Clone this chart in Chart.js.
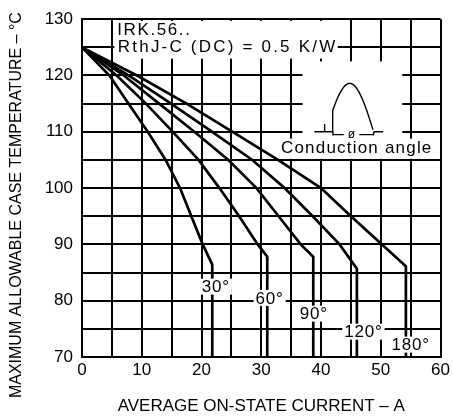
<!DOCTYPE html>
<html>
<head>
<meta charset="utf-8">
<script src="https://cdn.jsdelivr.net/npm/chart.js@4.4.1/dist/chart.umd.min.js"></script>
<style>
  html, body { margin: 0; padding: 0; background: #fff; }
  #box { position: relative; width: 453px; height: 417px; }
</style>
</head>
<body>
<div id="box"><canvas id="myChart"></canvas></div>
<script>
// conduction angles, one curve each
var angles = ['30°', '60°', '90°', '120°', '180°'];

// average on-state current (A) against max. allowable case temperature (°C)
var current30 = [0, 4.6, 7.8, 11.0, 14.0, 16.4, 18.3, 20.2, 21.8, 21.8];
var temp30 = [125, 120, 115, 110, 105, 100, 95, 90, 86.4, 70];
var current60 = [0, 5.8, 10.7, 15.2, 19.5, 23.0, 26.3, 29.4, 31.0, 31.0];
var temp60 = [125, 120, 115, 110, 105, 100, 95, 90, 87.8, 70];
var current90 = [0, 7.0, 12.9, 18.8, 24.5, 29.2, 32.9, 36.6, 38.7, 38.7];
var temp90 = [125, 120, 115, 110, 105, 100, 95, 90, 87.8, 70];
var current120 = [0, 7.8, 14.9, 21.8, 28.5, 33.9, 38.6, 43.1, 46.0, 46.0];
var temp120 = [125, 120, 115, 110, 105, 100, 95, 90, 85.7, 70];
var current180 = [0, 9.2, 17.5, 25.2, 32.8, 40.0, 45.0, 50.2, 54.2, 54.2];
var temp180 = [125, 120, 115, 110, 105, 100, 95, 90, 86.1, 70];

var xTickLabels = [0, 10, 20, 30, 40, 50, 60];
var yTickLabels = [70, 80, 90, 100, 110, 120, 130];

var xTitle = 'AVERAGE ON-STATE CURRENT – A';
var yTitle = 'MAXIMUM ALLOWABLE CASE TEMPERATURE – °C';
var noteLines = ['IRK.56..', 'RthJ-C (DC) = 0.5 K/W'];
var insetText = 'Conduction angle';

Chart.defaults.font.family = '"Liberation Sans", Arial, sans-serif';
Chart.defaults.color = '#000';

// where the angle tags sit (data units, centre of text)
var tagPos = [[22.4, 82.5], [31.4, 80.5], [38.8, 77.7], [47.1, 74.5], [55.0, 72.2]];
// white patches that hide the grid behind the notes [x1, x2, yTop, yBottom]
var patches = [[5.4, 42.8, 129.7, 123.0], [36.9, 53.6, 122.5, 108.6], [33.0, 59.8, 108.8, 105.2]];

function px(chart, v) { return chart.scales.x.getPixelForValue(v); }
function py(chart, v) { return chart.scales.y.getPixelForValue(v); }

var notesPlugin = {
    id: 'notes',
    beforeDatasetsDraw: function (chart) {
        var ctx = chart.ctx;
        ctx.save();
        ctx.fillStyle = '#fff';
        patches.forEach(function (b) {
            var x1 = px(chart, b[0]), x2 = px(chart, b[1]);
            var y1 = py(chart, b[2]), y2 = py(chart, b[3]);
            ctx.fillRect(x1, y1, x2 - x1, y2 - y1);
        });

        ctx.fillStyle = '#000';
        ctx.font = '17px "Liberation Sans"';
        ctx.textBaseline = 'middle';
        ctx.textAlign = 'left';
        ctx.letterSpacing = '1.6px';
        ctx.fillText(noteLines[0], px(chart, 5.9), py(chart, 128.0));
        ctx.letterSpacing = '2.2px';
        ctx.fillText(noteLines[1], px(chart, 6.0), py(chart, 125.0));
        ctx.letterSpacing = '1.2px';
        ctx.fillText(insetText, px(chart, 33.3), py(chart, 107.0));
        ctx.letterSpacing = '0px';

        // little half-wave sketch
        var base = py(chart, 110);
        var xa = px(chart, 40.8), xb = px(chart, 48.8);
        var h = base - py(chart, 118.6);
        var t0 = 0.45;
        ctx.strokeStyle = '#000';
        ctx.lineWidth = 1.4;
        ctx.beginPath();
        ctx.moveTo(xa + (xb - xa) * t0 / Math.PI, base);
        for (var t = t0; t <= Math.PI + 0.001; t += 0.05) {
            ctx.lineTo(xa + (xb - xa) * t / Math.PI, base - h * Math.sin(t));
        }
        ctx.stroke();
        ctx.beginPath();
        ctx.moveTo(px(chart, 38.9), base);
        ctx.lineTo(xa + (xb - xa) * t0 / Math.PI, base);
        ctx.moveTo(xb, base);
        ctx.lineTo(px(chart, 50.4), base);
        ctx.moveTo(px(chart, 40.6), base);
        ctx.lineTo(px(chart, 40.6), py(chart, 111.4));
        var dy = py(chart, 109.5);
        ctx.moveTo(px(chart, 42.0), base);
        ctx.lineTo(px(chart, 42.0), dy + 1);
        ctx.moveTo(px(chart, 42.0), dy);
        ctx.lineTo(px(chart, 43.8), dy);
        ctx.moveTo(px(chart, 46.4), dy);
        ctx.lineTo(xb, dy);
        ctx.moveTo(xb, base);
        ctx.lineTo(xb, dy + 1);
        ctx.stroke();
        ctx.font = '12px "Liberation Sans"';
        ctx.textAlign = 'center';
        ctx.fillText('ø', px(chart, 45.1), dy);
        ctx.restore();
    },
    afterDatasetsDraw: function (chart) {
        var ctx = chart.ctx;
        ctx.save();
        ctx.font = '17px "Liberation Sans"';
        ctx.letterSpacing = '0.8px';
        ctx.textAlign = 'center';
        ctx.textBaseline = 'middle';
        angles.forEach(function (a, i) {
            var cx = px(chart, tagPos[i][0]), cy = py(chart, tagPos[i][1]);
            var w = ctx.measureText(a).width + 4;
            ctx.fillStyle = '#fff';
            ctx.fillRect(cx - w / 2, cy - 8, w, 16);
            ctx.fillStyle = '#000';
            ctx.fillText(a, cx, cy + 1);
        });
        ctx.restore();
    },
    afterDraw: function (chart) {
        // y title drawn by hand: it is longer than the plot is tall
        var ctx = chart.ctx;
        ctx.save();
        ctx.font = '16px "Liberation Sans"';
        ctx.fillStyle = '#000';
        ctx.textAlign = 'center';
        ctx.textBaseline = 'middle';
        ctx.translate(17, (chart.chartArea.top + chart.chartArea.bottom) / 2 + 17);
        ctx.rotate(-Math.PI / 2);
        ctx.fillText(yTitle, 0, 0);
        ctx.restore();
    }
};

var curves = [[current30, temp30], [current60, temp60], [current90, temp90], [current120, temp120], [current180, temp180]];
var datasets = curves.map(function (c, i) {
    return {
        label: angles[i],
        data: c[0].map(function (x, k) { return { x: x, y: c[1][k] }; }),
        showLine: true,
        borderColor: '#000',
        borderWidth: 2.7,
        pointRadius: 0,
        tension: 0,
        fill: false
    };
});

var ctx = document.getElementById('myChart').getContext('2d');
var chart = new Chart(ctx, {
    type: 'scatter',
    data: { datasets: datasets },
    options: {
        responsive: true,
        maintainAspectRatio: false,
        animation: false,
        layout: { padding: { top: 14, right: 12, bottom: 0, left: 0 } },
        plugins: {
            legend: { display: false },
            tooltip: { enabled: false }
        },
        scales: {
            x: {
                type: 'linear',
                min: 0,
                max: 60,
                afterFit: function (s) { s.height = 60; },
                ticks: {
                    stepSize: 5,
                    autoSkip: false,
                    maxRotation: 0,
                    padding: 3,
                    color: '#000',
                    font: { size: 17 },
                    callback: function (v) { return xTickLabels.indexOf(v) >= 0 ? String(v) : ''; }
                },
                grid: { color: '#000', lineWidth: 2, drawTicks: false },
                border: { color: '#000', width: 2 },
                title: {
                    display: true,
                    text: xTitle,
                    color: '#000',
                    font: { size: 17 },
                    padding: 0
                }
            },
            y: {
                type: 'linear',
                min: 70,
                max: 130,
                afterFit: function (s) { s.width = 82; },
                ticks: {
                    stepSize: 5,
                    autoSkip: false,
                    padding: 9,
                    color: '#000',
                    font: { size: 17 },
                    callback: function (v) { return yTickLabels.indexOf(v) >= 0 ? String(v) : ''; }
                },
                grid: { color: '#000', lineWidth: 2, drawTicks: false },
                border: { color: '#000', width: 2 }
            }
        }
    },
    plugins: [notesPlugin]
});
</script>
</body>
</html>
